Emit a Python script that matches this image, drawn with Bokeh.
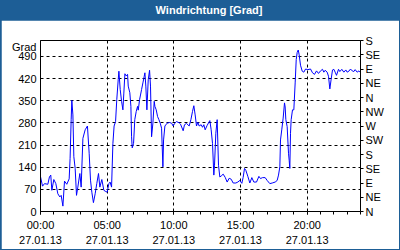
from bokeh.plotting import figure
from bokeh.models import Range1d, LinearAxis, FixedTicker, Div
from bokeh.layouts import column
from bokeh.embed import file_html
from bokeh.resources import INLINE

# ---- data (hours since 27.01.13 00:00, wind direction in degrees) ----
hours = [0.0, 0.15, 0.3, 0.55, 0.67, 0.77, 0.85, 1.0, 1.15, 1.3, 1.45, 1.55, 1.68, 1.8, 1.97,
         2.15, 2.22, 2.3, 2.35, 2.43, 2.5, 2.6, 2.7, 2.8, 2.95, 3.05, 3.18, 3.35, 3.52, 3.65,
         3.75, 3.85, 3.97, 4.1, 4.22, 4.35, 4.45, 4.6, 4.75, 4.9, 5.0, 5.13, 5.22, 5.33, 5.43,
         5.52, 5.63, 5.72, 5.83, 5.88, 5.98, 6.08, 6.18, 6.25, 6.33, 6.43, 6.53, 6.58, 6.7,
         6.78, 6.83, 6.88, 6.98, 7.07, 7.18, 7.28, 7.33, 7.43, 7.58, 7.68, 7.78, 7.83, 7.9,
         7.98, 8.08, 8.18, 8.25, 8.33, 8.43, 8.53, 8.58, 8.68, 8.78, 8.88, 8.98, 9.08, 9.18,
         9.23, 9.33, 9.5, 9.68, 9.83, 9.95, 10.08, 10.2, 10.4, 10.5, 10.7, 10.8, 10.95, 11.15,
         11.28, 11.4, 11.5, 11.6, 11.7, 11.8, 11.9, 12.05, 12.15, 12.25, 12.35, 12.5, 12.7,
         12.8, 12.9, 13.0, 13.05, 13.15, 13.25, 13.35, 13.45, 13.55, 13.7, 13.85, 14.0, 14.15,
         14.3, 14.45, 14.65, 14.8, 14.95, 15.1, 15.2, 15.3, 15.4, 15.55, 15.7, 15.85, 16.0,
         16.2, 16.38, 16.5, 16.65, 16.85, 17.0, 17.2, 17.38, 17.6, 17.75, 17.85, 17.95, 18.0,
         18.1, 18.2, 18.3, 18.35, 18.4, 18.5, 18.6, 18.65, 18.7, 18.75, 18.8, 18.9, 19.0, 19.1,
         19.18, 19.25, 19.33, 19.4, 19.5, 19.63, 19.75, 19.88, 20.05, 20.25, 20.4, 20.55, 20.7,
         20.85, 21.0, 21.15, 21.25, 21.35, 21.5, 21.6, 21.7, 21.8, 21.9, 22.0, 22.1, 22.2,
         22.35, 22.45, 22.6, 22.75, 22.9, 23.0, 23.15, 23.25, 23.38, 23.5, 23.6, 23.75, 23.88,
         23.95]
direction = [110, 80, 88, 86, 109, 115, 67, 101, 88, 56, 46, 51, 17, 96, 86,
             103, 168, 290, 351, 305, 173, 136, 51, 77, 120, 77, 231, 258, 270, 184,
             99, 61, 28, 56, 88, 120, 77, 101, 67, 63, 61, 88, 93, 77, 215,
             270, 284, 353, 417, 443, 385, 348, 321, 374, 435, 428, 433, 396, 375,
             332, 236, 201, 215, 290, 316, 332, 320, 353, 385, 406, 427, 438, 396,
             321, 416, 446, 396, 236, 279, 348, 332, 321, 300, 290, 279, 263, 141,
             226, 270, 279, 281, 279, 270, 279, 284, 280, 276, 255, 274, 278, 270,
             290, 316, 334, 305, 270, 282, 270, 274, 266, 274, 258, 272, 287,
             258, 215, 115, 146, 247, 290, 146, 109, 112, 118, 108, 93, 105,
             102, 90, 90, 93, 98, 89, 108, 136, 130, 111, 90, 107, 93,
             93, 111, 104, 107, 107, 98, 88, 90, 93, 98, 115, 141, 226,
             260, 295, 343, 330, 290, 268, 184, 162, 136, 247, 290, 321, 321, 406,
             480, 502, 510, 495, 462, 443, 440, 450, 448, 450, 438, 433, 444,
             436, 444, 449, 440, 446, 440, 427, 387, 418, 447, 449, 440, 430,
             449, 442, 449, 440, 447, 440, 444, 450, 444, 442, 448, 440, 444,
             440]

y_ticks = [0, 70, 140, 210, 280, 350, 420, 490]
y_tick_labels = ["0", "70", "140", "210", "280", "350", "420", "490"]
compass_ticks = [0, 45, 90, 135, 180, 225, 270, 315, 360, 405, 450, 495, 540]
compass_labels = ["N", "NE", "E", "SE", "S", "SW", "W", "NW", "N", "NE", "E", "SE", "S"]
x_ticks = [0, 5, 10, 15, 20]
x_tick_labels = ["00:00\n27.01.13", "05:00\n27.01.13", "10:00\n27.01.13",
                 "15:00\n27.01.13", "20:00\n27.01.13"]
x_minor = list(range(0, 25))
title_text = "Windrichtung [Grad]"
unit_text = "Grad"

# ---- layout constants ----
BLUE = "#1d5e96"
FONT = "Liberation Sans"
PW, PH = 398, 229          # figure canvas (inside 1px blue border, below 20px title bar)
Y_MAX = 540
FRAME_H = 171              # pixel height of the plotting frame
UNIT_DROP_PX = 6           # unit caption sits this far below the frame top
unit_pos = Y_MAX - UNIT_DROP_PX * Y_MAX / FRAME_H

p = figure(width=PW, height=PH, x_range=Range1d(0, 24), y_range=Range1d(0, Y_MAX),
           output_backend="svg", toolbar_location=None, title=None,
           min_border_left=39, min_border_right=39, min_border_top=20,
           min_border_bottom=38,
           background_fill_color="white", border_fill_color="white",
           margin=(0, 1, 1, 1))
p.outline_line_color = "black"
p.outline_line_width = 1

# bottom axis
xa = p.xaxis[0]
xa.ticker = FixedTicker(ticks=x_ticks, minor_ticks=x_minor)
xa.major_label_overrides = dict(zip(x_ticks, x_tick_labels))
xa.major_tick_in = 0
xa.major_tick_out = 3
xa.minor_tick_in = 0
xa.minor_tick_out = 3
xa.major_label_standoff = 4
xa.major_label_text_font = FONT
xa.major_label_text_font_size = "11px"
xa.major_label_text_color = "black"
xa.major_label_text_line_height = 1.3
xa.axis_line_color = "black"
xa.major_tick_line_color = "black"
xa.minor_tick_line_color = "black"

# left axis (numeric ticks plus the unit caption near the top)
ya = p.yaxis[0]
ya.ticker = FixedTicker(ticks=y_ticks + [unit_pos], minor_ticks=[])
overrides = dict(zip(y_ticks, y_tick_labels))
overrides[unit_pos] = unit_text
ya.major_label_overrides = overrides
ya.major_tick_in = 0
ya.major_tick_out = 0
ya.minor_tick_in = 0
ya.minor_tick_out = 0
ya.major_label_standoff = 4
ya.major_label_text_font = FONT
ya.major_label_text_font_size = "11px"
ya.major_label_text_color = "black"
ya.axis_line_color = "black"

# right compass axis
ra = LinearAxis(ticker=FixedTicker(ticks=compass_ticks, minor_ticks=[]))
ra.major_label_overrides = dict(zip(compass_ticks, compass_labels))
ra.major_tick_in = 0
ra.major_tick_out = 3
ra.minor_tick_in = 0
ra.minor_tick_out = 0
ra.major_label_standoff = 2
ra.major_label_text_font = FONT
ra.major_label_text_font_size = "11px"
ra.major_label_text_color = "black"
ra.axis_line_color = "black"
ra.major_tick_line_color = "black"
p.add_layout(ra, "right")

# grids (own tickers so the unit caption gets no grid line)
p.xgrid[0].ticker = FixedTicker(ticks=x_ticks)
p.ygrid[0].ticker = FixedTicker(ticks=y_ticks)
for g in (p.xgrid[0], p.ygrid[0]):
    g.grid_line_color = "black"
    g.grid_line_dash = "3 3"
    g.grid_line_width = 1
    g.grid_line_alpha = 1.0

# data line
p.line(hours, direction, line_color="#0000ff", line_width=1)

title = Div(text=title_text, width=400, height=20, margin=(0, 0, 0, 0),
            styles={"background-color": BLUE, "color": "white", "font-family": FONT,
                    "font-size": "11px", "font-weight": "bold", "text-align": "center",
                    "line-height": "20px", "text-indent": "18px", "overflow": "hidden"})

layout = column(title, p, spacing=0, styles={"background-color": BLUE})

open("out.html", "w").write(file_html(layout, INLINE))
